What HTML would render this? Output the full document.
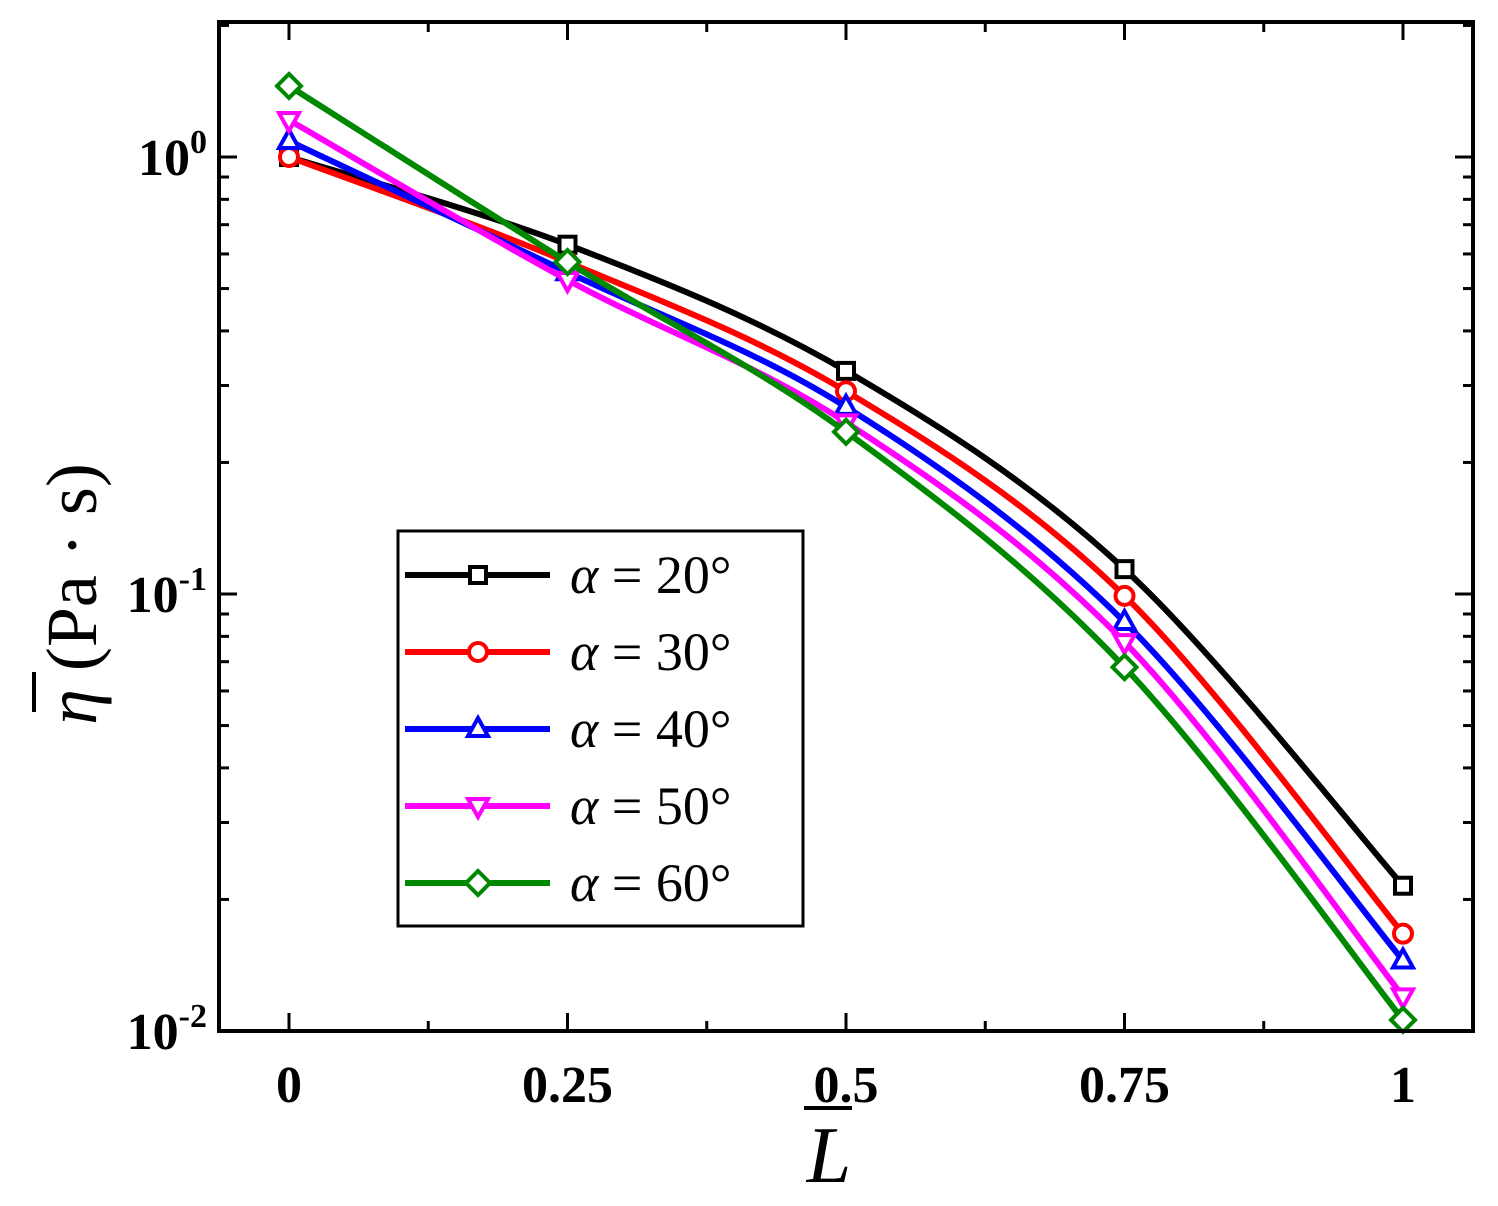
<!DOCTYPE html>
<html><head><meta charset="utf-8"><style>
html,body{margin:0;padding:0;background:#fff;}
svg{display:block;font-family:"Liberation Serif",serif;}
</style></head><body>
<svg id="chart" width="1498" height="1206" viewBox="0 0 1498 1206" xmlns="http://www.w3.org/2000/svg">
<g id="grid"></g>
<g id="series"></g>
<rect x="219" y="22" width="1254" height="1009" fill="none" stroke="#000" stroke-width="4"/>
<g id="legend"></g>
<text x="829" y="1182" font-size="80" font-style="italic" text-anchor="middle">L</text>
<line x1="804" y1="1108" x2="852" y2="1108" stroke="#000" stroke-width="4"/>
<g transform="translate(96,594) rotate(-90)">
<text x="0" y="0" font-size="72" text-anchor="middle"><tspan font-style="italic">η</tspan> (Pa · s)</text>
<line x1="-118" y1="-62" x2="-78" y2="-62" stroke="#000" stroke-width="4"/>
</g>
</svg>
<script>
const xValues=[0,0.25,0.5,0.75,1];
const xTickLabels=["0","0.25","0.5","0.75","1"];
const s20=[1.0,0.63,0.324,0.114,0.0215];
const s30=[1.0,0.575,0.291,0.099,0.0167];
const s40=[1.088,0.545,0.268,0.0863,0.0145];
const s50=[1.215,0.523,0.247,0.0776,0.012];
const s60=[1.454,0.575,0.235,0.068,0.0106];
const seriesLabels=["α = 20°","α = 30°","α = 40°","α = 50°","α = 60°"];
const yDecades=[0,-1,-2];

const NS="http://www.w3.org/2000/svg";
const X=v=>289+v*(1403-289);
const Y=v=>157-Math.log10(v)*437;
function mk(tag,attrs,parent){const e=document.createElementNS(NS,tag);for(const k in attrs)e.setAttribute(k,attrs[k]);parent.appendChild(e);return e;}
const grid=document.getElementById('grid');
for(let i=0;i<=8;i++){const v=i*0.125;const x=X(v);const len=i%2==0?18:10;
 let t=mk('line',{x1:x,y1:1031,x2:x,y2:1031-len,stroke:'#000','stroke-width':3},grid);
 
 t=mk('line',{x1:x,y1:22,x2:x,y2:22+len,stroke:'#000','stroke-width':3},grid);
 }
xValues.forEach((v,i)=>{const t=mk('text',{x:X(v),y:1102,'font-size':52,'font-weight':'bold','text-anchor':'middle'},grid);t.textContent=xTickLabels[i];
 });
function minor(yy){
 let a=mk('line',{x1:219,y1:yy,x2:229,y2:yy,stroke:'#000','stroke-width':3},grid);
 a=mk('line',{x1:1473,y1:yy,x2:1463,y2:yy,stroke:'#000','stroke-width':3},grid);}
yDecades.forEach(d=>{const y=Y(Math.pow(10,d));
 let t=mk('line',{x1:219,y1:y,x2:237,y2:y,stroke:'#000','stroke-width':3},grid);
 t=mk('line',{x1:1473,y1:y,x2:1455,y2:y,stroke:'#000','stroke-width':3},grid);
 const tx=mk('text',{x:207,y:y+18,'font-size':52,'font-weight':'bold','text-anchor':'end'},grid);
 
 tx.innerHTML='10<tspan dy="-22" font-size="34">'+d+'</tspan>';
 if(d>-2){for(let m=2;m<=9;m++)minor(Y(m*Math.pow(10,d-1)));}
});
for(let m=2;m<=9;m++){const yy=Y(m);if(yy<22)break;minor(yy);}

const colors=["#000","#f00","#00f","#f0f","#080"];
const markers=["square","circle","triangle","tri-down","diamond"];
const allS=[s20,s30,s40,s50,s60];
function marker(g,type,x,y,c){let e;
 if(type=="square")e=mk('rect',{x:x-8,y:y-8,width:16,height:16},g);
 else if(type=="circle")e=mk('circle',{cx:x,cy:y,r:9},g);
 else if(type=="triangle")e=mk('polygon',{points:`${x},${y-11} ${x-10},${y+7} ${x+10},${y+7}`},g);
 else if(type=="tri-down")e=mk('polygon',{points:`${x},${y+11} ${x-10},${y-7} ${x+10},${y-7}`},g);
 else e=mk('polygon',{points:`${x},${y-12} ${x+12},${y} ${x},${y+12} ${x-12},${y}`},g);
 e.setAttribute('fill','#fff');e.setAttribute('stroke',c);e.setAttribute('stroke-width',4);return e;}
function smooth(pts){let d=`M${pts[0][0]},${pts[0][1]}`;
 for(let i=0;i<pts.length-1;i++){const p0=pts[Math.max(0,i-1)],p1=pts[i],p2=pts[i+1],p3=pts[Math.min(pts.length-1,i+2)];
  const c1=[p1[0]+(p2[0]-p0[0])/6,p1[1]+(p2[1]-p0[1])/6],c2=[p2[0]-(p3[0]-p1[0])/6,p2[1]-(p3[1]-p1[1])/6];
  d+=` C${c1[0]},${c1[1]} ${c2[0]},${c2[1]} ${p2[0]},${p2[1]}`;}return d;}
const sg=document.getElementById('series');
allS.forEach((s,k)=>{const g=mk('g',{},sg);
 const pts=s.map((v,i)=>[X(xValues[i]),Y(v)]);
 const p=mk('path',{d:smooth(pts),fill:'none',stroke:colors[k],'stroke-width':6},g);
 pts.forEach(q=>{const m=marker(g,markers[k],q[0],q[1],colors[k]);});});
const lg=document.getElementById('legend');
const box=mk('rect',{x:398,y:531,width:405,height:395,fill:'#fff',stroke:'#000','stroke-width':3},lg);
seriesLabels.forEach((lab,k)=>{const y=575+k*77;const g=mk('g',{},lg);
 mk('line',{x1:405,y1:y,x2:550,y2:y,stroke:colors[k],'stroke-width':6},g);marker(g,markers[k],478,y,colors[k]);
 const t=mk('text',{x:570,y:y+18,'font-size':54},g);t.innerHTML='<tspan font-style="italic">α</tspan> = '+lab.split('= ')[1];});
</script>
</body></html>
